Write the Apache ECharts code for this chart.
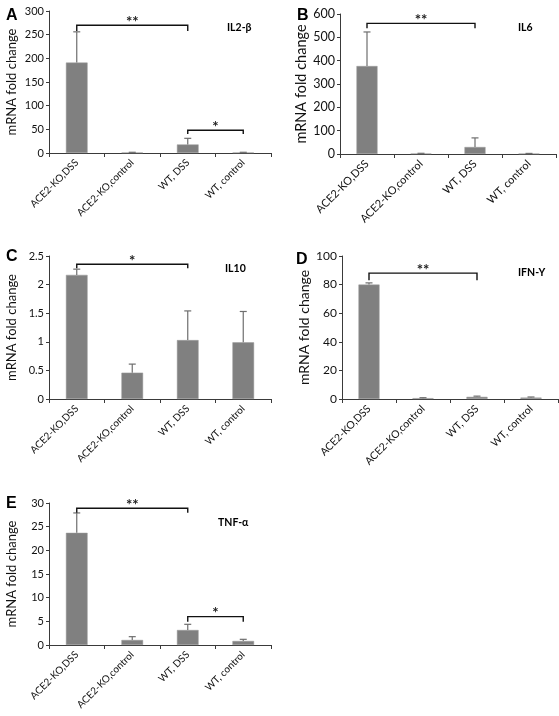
<!DOCTYPE html>
<html>
<head>
<meta charset="utf-8">
<script src="https://cdn.jsdelivr.net/npm/echarts@6/dist/echarts.min.js"></script>
<style>
html,body{margin:0;padding:0;background:#fff;}
#chart{width:559px;height:716px;}
</style>
</head>
<body>
<div id="chart"></div>
<script>
const categories = ['ACE2-KO,DSS', 'ACE2-KO,control', 'WT, DSS', 'WT, control'];

const il2Mean = [191, 1, 18, 1];
const il2Err = [65, 0.5, 13, 0.5];
const il6Mean = [377, 2, 30, 1.5];
const il6Err = [146, 1, 39, 1];
const il10Mean = [2.17, 0.46, 1.03, 0.99];
const il10Err = [0.1, 0.15, 0.51, 0.54];
const ifnMean = [80, 0.6, 1.5, 1];
const ifnErr = [1.2, 0.3, 0.5, 0.4];
const tnfMean = [23.7, 1.06, 3.17, 0.85];
const tnfErr = [4.2, 0.7, 1.2, 0.35];

// significance brackets: [fromCategory, toCategory, bracketValue, endValue, mark]
const il2Sig = [[0, 2, 270, 258, '**'], [2, 3, 48, 40, '*']];
const il6Sig = [[0, 2, 560, 539, '**']];
const il10Sig = [[0, 2, 2.355, 2.285, '*']];
const ifnSig = [[0, 2, 88, 83, '**']];
const tnfSig = [[0, 2, 28.9, 27.95, '**'], [2, 3, 6.0, 4.9, '*']];

// axis ranges: [min, max, interval]
const il2Axis = [0, 300, 50];
const il6Axis = [0, 600, 100];
const il10Axis = [0, 2.5, 0.5];
const ifnAxis = [0, 100, 20];
const tnfAxis = [0, 30, 5];

const panelLetters = ['A', 'B', 'C', 'D', 'E'];
const geneNames = ['IL2-β', 'IL6', 'IL10', 'IFN-Y', 'TNF-α'];
const yAxisName = 'mRNA fold change';

const panels = [
  {mean: il2Mean, err: il2Err, sig: il2Sig, axis: il2Axis,
   grid: {left: 49, top: 11, width: 222, height: 142}, fs: 11, xfs: 10,
   letter: [1, 3], gene: [222, 17]},
  {mean: il6Mean, err: il6Err, sig: il6Sig, axis: il6Axis,
   grid: {left: 340, top: 14, width: 216, height: 140}, fs: 12.5, xfs: 11,
   letter: [292, 3], gene: [513, 17]},
  {mean: il10Mean, err: il10Err, sig: il10Sig, axis: il10Axis,
   grid: {left: 49, top: 256, width: 222, height: 143}, fs: 11, xfs: 10,
   letter: [1, 244], gene: [220, 258]},
  {mean: ifnMean, err: ifnErr, sig: ifnSig, axis: ifnAxis,
   grid: {left: 342, top: 256, width: 216, height: 143}, fs: 12, xfs: 10.5,
   letter: [291, 247], gene: [513, 262]},
  {mean: tnfMean, err: tnfErr, sig: tnfSig, axis: tnfAxis,
   grid: {left: 49, top: 503, width: 222, height: 142}, fs: 11, xfs: 10,
   letter: [1, 491], gene: [213, 512]}
];

const FONT = 'Lato';
const AXIS_COLOR = '#3a3a3a';
const BAR_COLOR = '#808080';

const option = {
  animation: false,
  backgroundColor: '#fff',
  title: [],
  grid: [],
  xAxis: [],
  yAxis: [],
  series: []
};

panels.forEach((p, i) => {
  option.grid.push(Object.assign({containLabel: false}, p.grid));
  option.title.push({
    text: panelLetters[i], left: p.letter[0], top: p.letter[1],
    textStyle: {fontFamily: 'Liberation Sans', fontWeight: 'bold', fontSize: 16, color: '#000'}
  });
  option.title.push({
    text: geneNames[i], left: p.gene[0], top: p.gene[1],
    textStyle: {fontFamily: FONT, fontWeight: 'bold', fontSize: 10.5, color: '#000'}
  });
  option.xAxis.push({
    type: 'category', gridIndex: i, data: categories,
    axisLine: {lineStyle: {color: AXIS_COLOR, width: 1}},
    axisTick: {show: true, length: 4, lineStyle: {color: AXIS_COLOR}},
    axisLabel: {rotate: 45, interval: 0, margin: 8, color: '#111',
      fontFamily: FONT, fontSize: p.xfs},
    splitLine: {show: false}
  });
  option.yAxis.push({
    type: 'value', gridIndex: i, min: p.axis[0], max: p.axis[1], interval: p.axis[2],
    name: yAxisName, nameLocation: 'middle', nameGap: 31,
    nameTextStyle: {fontFamily: FONT, fontSize: p.fs + 2, color: '#111'},
    axisLine: {show: true, lineStyle: {color: AXIS_COLOR, width: 1}},
    axisTick: {show: true, length: 3, lineStyle: {color: AXIS_COLOR}},
    axisLabel: {margin: 5, color: '#111', fontFamily: FONT, fontSize: p.fs},
    splitLine: {show: false}
  });
  option.series.push({
    type: 'bar', xAxisIndex: i, yAxisIndex: i, data: p.mean,
    barWidth: '39%',
    itemStyle: {color: BAR_COLOR, borderColor: '#9a9a9a', borderWidth: 0.5},
    z: 2
  });
  option.series.push({
    type: 'custom', xAxisIndex: i, yAxisIndex: i, z: 3,
    data: p.mean.map((m, k) => [k, m, m + p.err[k]]),
    renderItem: function (params, api) {
      const x = api.value(0);
      const a = api.coord([x, api.value(1)]);
      const b = api.coord([x, api.value(2)]);
      const st = {stroke: '#6e6e6e', lineWidth: 1.2};
      return {type: 'group', children: [
        {type: 'line', shape: {x1: a[0], y1: a[1], x2: b[0], y2: b[1]}, style: st},
        {type: 'line', shape: {x1: b[0] - 3.5, y1: b[1], x2: b[0] + 3.5, y2: b[1]}, style: st}
      ]};
    }
  });
  option.series.push({
    type: 'custom', xAxisIndex: i, yAxisIndex: i, z: 4,
    data: p.sig.map(s => [s[0], s[2], s[1], s[3]]),
    renderItem: function (params, api) {
      const from = api.value(0), to = api.value(2);
      const yv = api.value(1), ev = api.value(3);
      const s = p.sig[params.dataIndex];
      const a = api.coord([from, yv]);
      const b = api.coord([to, yv]);
      const a2 = api.coord([from, ev]);
      const b2 = api.coord([to, ev]);
      return {type: 'group', children: [
        {type: 'polyline', shape: {points: [[a2[0], a2[1]], [a[0], a[1]], [b[0], b[1]], [b2[0], b2[1]]]},
         style: {stroke: '#111', lineWidth: 1.4, fill: null}},
        {type: 'text', style: {text: s[4], x: (a[0] + b[0]) / 2, y: a[1] + 4,
          textAlign: 'center', textVerticalAlign: 'bottom',
          font: 'bold 15px ' + FONT, fill: '#222'}}
      ]};
    }
  });
});

const chart = echarts.init(document.getElementById('chart'), null, {renderer: 'canvas'});
chart.setOption(option);
</script>
</body>
</html>
